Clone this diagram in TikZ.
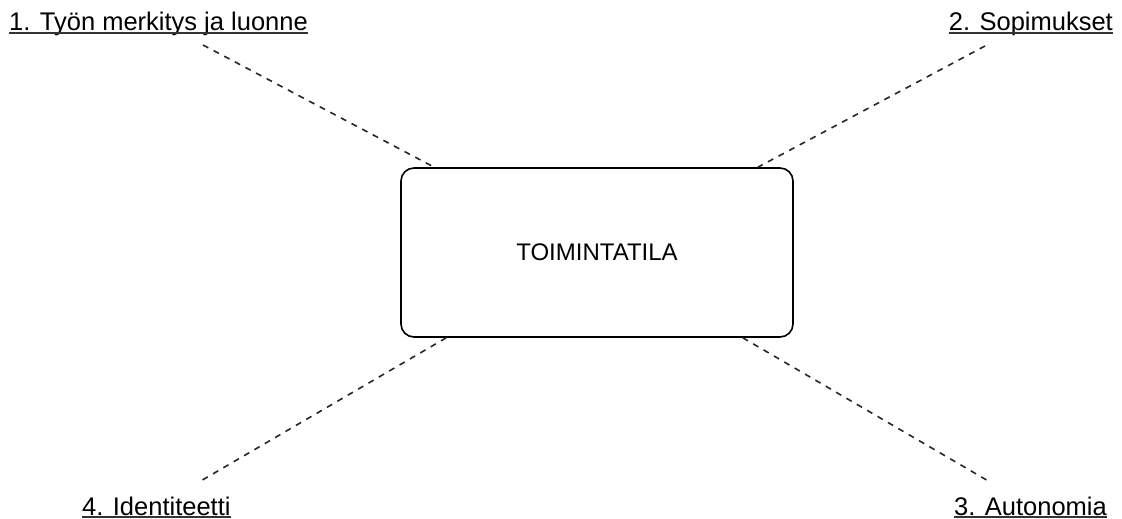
\documentclass[tikz,border=0pt]{standalone}
\usepackage{fontspec}
\setmainfont{Liberation Sans}
\begin{document}
\begin{tikzpicture}[x=1pt,y=-1pt,
  mainbox/.style={draw=black, line width=1.6pt, rounded corners=13pt, minimum width=392pt, minimum height=169pt, inner sep=0pt, font=\fontsize{24}{28}\selectfont},
  lab/.style={inner sep=0pt, font=\fontsize{25.5}{30}\selectfont},
  ulin/.style={draw=black!80, line width=1.4pt},
  conn/.style={draw=black!85, line width=1.6pt, dash pattern=on 6pt off 6pt}]
\useasboundingbox (0,0) rectangle (1122,519);
\node[mainbox] (main) at (597,252.5) {TOIMINTATILA};
\node[lab, anchor=base west] (l1) at (9,31) {1. Työn merkitys ja luonne};
\node[lab, anchor=base east] (l2) at (1113,31) {2. Sopimukset};
\node[lab, anchor=base east] (l3) at (1107,515) {3. Autonomia};
\node[lab, anchor=base west] (l4) at (82,515) {4. Identiteetti};
\foreach \n in {l1,l2,l3,l4}{
  \draw[ulin] ([yshift=-2pt]\n.base west) -- ([yshift=-2pt]\n.base east);
}
\coordinate (c1) at (203,45);
\coordinate (c2) at (985,46);
\coordinate (c3) at (990,482);
\coordinate (c4) at (199,482);
\draw[conn] (c1) -- ([xshift=34pt]main.north west);
\draw[conn] (c2) -- ([xshift=-36pt]main.north east);
\draw[conn] ([xshift=-51pt]main.south east) -- (c3);
\draw[conn] ([xshift=46pt]main.south west) -- (c4);
\end{tikzpicture}
\end{document}
